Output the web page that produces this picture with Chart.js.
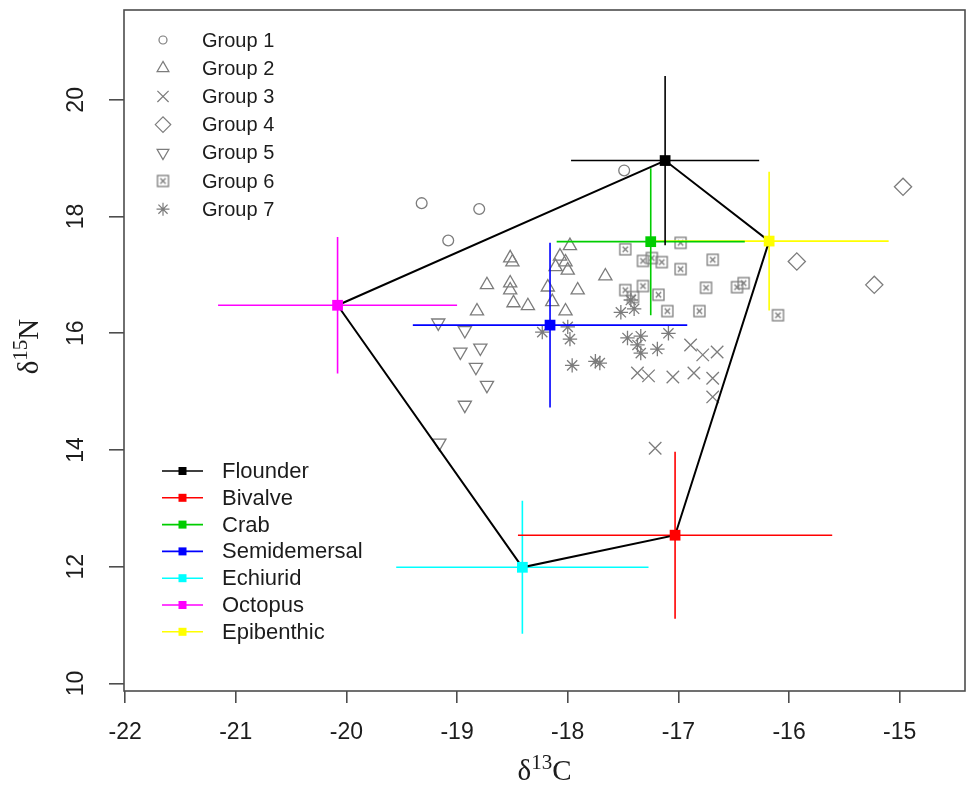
<!DOCTYPE html>
<html>
<head>
<meta charset="utf-8">
<script src="https://cdn.jsdelivr.net/npm/chart.js@4.4.1/dist/chart.umd.min.js"></script>
<style>
  html, body { margin: 0; padding: 0; background: #ffffff; }
  canvas { display: block; }
</style>
</head>
<body>
<canvas id="chart" width="967" height="787"></canvas>
<script>
// Axis tick labels
const xTicks = [-22, -21, -20, -19, -18, -17, -16, -15];
const yTicks = [10, 12, 14, 16, 18, 20];

// Consumer groups, each point is [δ13C, δ15N]
const groupNames = ['Group 1', 'Group 2', 'Group 3', 'Group 4', 'Group 5', 'Group 6', 'Group 7'];
const group1 = [[-19.32, 18.23], [-18.80, 18.13], [-19.08, 17.59], [-17.49, 18.79]];
const group2 = [[-17.98, 17.50], [-18.52, 17.29], [-18.50, 17.22], [-18.07, 17.32], [-18.02, 17.22],
                [-18.11, 17.14], [-18.00, 17.08], [-17.66, 16.98], [-18.73, 16.83], [-18.52, 16.86],
                [-18.52, 16.74], [-18.18, 16.79], [-17.91, 16.74], [-18.49, 16.52], [-18.36, 16.47],
                [-18.14, 16.54], [-18.02, 16.38], [-18.82, 16.38]];
const group3 = [[-16.89, 15.80], [-16.78, 15.63], [-16.65, 15.68], [-17.37, 15.32], [-17.27, 15.27],
                [-17.05, 15.25], [-16.86, 15.32], [-16.69, 15.23], [-16.69, 14.91], [-17.21, 14.03]];
const group4 = [[-14.97, 18.51], [-15.93, 17.23], [-15.23, 16.83]];
const group5 = [[-19.17, 16.18], [-18.93, 16.05], [-18.97, 15.68], [-18.79, 15.75], [-18.83, 15.42],
                [-18.73, 15.11], [-18.93, 14.77], [-19.16, 14.12]];
const group6 = [[-17.48, 17.44], [-16.98, 17.55], [-17.32, 17.24], [-17.24, 17.29], [-17.15, 17.22],
                [-16.98, 17.10], [-16.69, 17.26], [-17.48, 16.74], [-17.32, 16.81], [-17.41, 16.62],
                [-17.18, 16.66], [-17.10, 16.38], [-16.81, 16.38], [-16.75, 16.78], [-16.47, 16.79],
                [-16.41, 16.86], [-16.10, 16.31]];
const group7 = [[-18.23, 16.02], [-18.00, 16.11], [-17.98, 15.90], [-17.96, 15.45], [-17.75, 15.52],
                [-17.71, 15.49], [-17.52, 16.36], [-17.40, 16.42], [-17.43, 16.57], [-17.46, 15.92],
                [-17.34, 15.95], [-17.37, 15.80], [-17.34, 15.66], [-17.19, 15.73], [-17.09, 16.00]];
const groups = [group1, group2, group3, group4, group5, group6, group7];

// Food sources: mean and standard deviation of δ13C and δ15N
const sourceNames = ['Flounder', 'Bivalve', 'Crab', 'Semidemersal', 'Echiurid', 'Octopus', 'Epibenthic'];
const meanC = [-17.12, -17.03, -17.25, -18.16, -18.41, -20.08, -16.18];
const sdC   = [  0.85,   1.42,   0.85,   1.24,   1.14,   1.08,   1.08];
const meanN = [ 18.96,  12.54,  17.57,  16.14,  11.99,  16.48,  17.58];
const sdN   = [  1.45,   1.43,   1.26,   1.41,   1.14,   1.17,   1.19];

// ---- styles ----
const sourceColors = ['#000000', '#ff0000', '#00cd00', '#0000ff', '#00ffff', '#ff00ff', '#ffff00'];
const symbolGray = '#7c7c7c';
const axisGray = '#4d4d4d';
const textColor = '#1c1c1c';
const sansFont = '"Liberation Sans", Arial, sans-serif';
const serifFont = '"Liberation Serif", "Times New Roman", serif';

// square with a cross inside (R pch 7)
function makeBoxX() {
  const c = document.createElement('canvas');
  c.width = 15; c.height = 15;
  const g = c.getContext('2d');
  g.strokeStyle = symbolGray;
  g.lineWidth = 1.3;
  g.strokeRect(2, 2, 11, 11);
  g.beginPath();
  g.moveTo(4.8, 4.8); g.lineTo(10.2, 10.2);
  g.moveTo(10.2, 4.8); g.lineTo(4.8, 10.2);
  g.stroke();
  return c;
}
const boxX = makeBoxX();

const groupStyles = [
  { pointStyle: 'circle',   radius: 5.4, rotation: 0 },
  { pointStyle: 'triangle', radius: 7.6, rotation: 0 },
  { pointStyle: 'crossRot', radius: 8.8, rotation: 0 },
  { pointStyle: 'rectRot',  radius: 8.6, rotation: 0 },
  { pointStyle: 'triangle', radius: 7.6, rotation: 180 },
  { pointStyle: boxX,       radius: 7,   rotation: 0 },
  { pointStyle: 'star',     radius: 7.2, rotation: 0 }
];

const toXY = arr => arr.map(([x, y]) => ({ x, y }));

// convex hull of the source means (monotone chain)
function convexHull(pts) {
  const p = pts.slice().sort((a, b) => a.x - b.x || a.y - b.y);
  const cross = (o, a, b) => (a.x - o.x) * (b.y - o.y) - (a.y - o.y) * (b.x - o.x);
  const lower = [], upper = [];
  for (const q of p) {
    while (lower.length >= 2 && cross(lower[lower.length - 2], lower[lower.length - 1], q) <= 0) lower.pop();
    lower.push(q);
  }
  for (let i = p.length - 1; i >= 0; i--) {
    const q = p[i];
    while (upper.length >= 2 && cross(upper[upper.length - 2], upper[upper.length - 1], q) <= 0) upper.pop();
    upper.push(q);
  }
  upper.pop(); lower.pop();
  const hull = lower.concat(upper);
  hull.push(hull[0]);
  return hull;
}

const datasets = [];

// consumer groups
groups.forEach((pts, i) => {
  const st = groupStyles[i];
  datasets.push({
    type: 'scatter',
    label: groupNames[i],
    data: toXY(pts),
    pointStyle: st.pointStyle,
    pointRadius: st.radius,
    pointRotation: st.rotation,
    pointBorderColor: symbolGray,
    pointBackgroundColor: 'rgba(0,0,0,0)',
    pointBorderWidth: 1.3,
    order: 4
  });
});

// error bars: horizontal ±sd(δ13C), vertical ±sd(δ15N)
sourceNames.forEach((name, i) => {
  datasets.push({
    type: 'line',
    label: name + ' sd',
    data: [
      { x: meanC[i] - sdC[i], y: meanN[i] },
      { x: meanC[i] + sdC[i], y: meanN[i] },
      { x: null, y: null },
      { x: meanC[i], y: meanN[i] - sdN[i] },
      { x: meanC[i], y: meanN[i] + sdN[i] }
    ],
    borderColor: sourceColors[i],
    borderWidth: 1.6,
    pointRadius: 0,
    fill: false,
    spanGaps: false,
    tension: 0,
    order: 3
  });
});

// polygon around the source means
const meanPts = sourceNames.map((n, i) => ({ x: meanC[i], y: meanN[i] }));
datasets.push({
  type: 'line',
  label: 'hull',
  data: convexHull(meanPts),
  borderColor: '#000000',
  borderWidth: 2,
  pointRadius: 0,
  fill: false,
  tension: 0,
  order: 2
});

// source means
sourceNames.forEach((name, i) => {
  datasets.push({
    type: 'scatter',
    label: name,
    data: [{ x: meanC[i], y: meanN[i] }],
    pointStyle: 'rect',
    pointRadius: 7.6,
    pointBackgroundColor: sourceColors[i],
    pointBorderColor: sourceColors[i],
    pointBorderWidth: 0,
    order: 1
  });
});

function drawDeltaLabel(ctx, sup, tail, size) {
  // draws δ^sup tail centred on (0,0), baseline positioned so the caps are centred
  const supSize = Math.round(size * 0.72);
  ctx.font = size + 'px ' + serifFont;
  const w1 = ctx.measureText('δ').width;
  const w3 = ctx.measureText(tail).width;
  ctx.font = supSize + 'px ' + serifFont;
  const w2 = ctx.measureText(sup).width;
  const total = w1 + w2 + w3;
  let x = -total / 2;
  const base = size * 0.33;
  ctx.textAlign = 'left';
  ctx.textBaseline = 'alphabetic';
  ctx.font = size + 'px ' + serifFont;
  ctx.fillText('δ', x, base);
  x += w1;
  ctx.font = supSize + 'px ' + serifFont;
  ctx.fillText(sup, x, base - size * 0.36);
  x += w2;
  ctx.font = size + 'px ' + serifFont;
  ctx.fillText(tail, x, base);
}

const decorations = {
  id: 'decorations',
  afterDraw(chart) {
    const ctx = chart.ctx;
    const area = chart.chartArea;
    const xs = chart.scales.x, ys = chart.scales.y;
    ctx.save();

    // plot frame
    ctx.strokeStyle = axisGray;
    ctx.lineWidth = 1.6;
    ctx.strokeRect(area.left, area.top, area.right - area.left, area.bottom - area.top);

    // tick labels
    ctx.fillStyle = textColor;
    ctx.font = '23px ' + sansFont;
    ctx.textAlign = 'center';
    ctx.textBaseline = 'middle';
    xTicks.forEach(v => ctx.fillText(String(v), xs.getPixelForValue(v), 733));
    yTicks.forEach(v => {
      ctx.save();
      ctx.translate(77, ys.getPixelForValue(v));
      ctx.rotate(-Math.PI / 2);
      ctx.fillText(String(v), 0, 0);
      ctx.restore();
    });

    // axis titles
    ctx.save();
    ctx.translate((area.left + area.right) / 2, 770);
    drawDeltaLabel(ctx, '13', 'C', 29);
    ctx.restore();
    ctx.save();
    ctx.translate(28, (area.top + area.bottom) / 2 - 4);
    ctx.rotate(-Math.PI / 2);
    drawDeltaLabel(ctx, '15', 'N', 29);
    ctx.restore();

    // legend of consumer groups
    ctx.font = '20px ' + sansFont;
    ctx.textAlign = 'left';
    ctx.textBaseline = 'middle';
    groupNames.forEach((name, i) => {
      const y = 40 + i * 28.2;
      const st = groupStyles[i];
      ctx.save();
      ctx.strokeStyle = symbolGray;
      ctx.fillStyle = 'rgba(0,0,0,0)';
      ctx.lineWidth = 1.2;
      Chart.helpers.drawPoint(ctx, {
        pointStyle: st.pointStyle,
        rotation: st.rotation,
        radius: i === 0 ? 4 : st.radius * 0.9,
        borderWidth: 1.2
      }, 163, y);
      ctx.restore();
      ctx.fillStyle = textColor;
      ctx.fillText(name, 202, y + 1);
    });

    // legend of sources
    ctx.font = '22px ' + sansFont;
    sourceNames.forEach((name, i) => {
      const y = 471 + i * 26.8;
      ctx.strokeStyle = sourceColors[i];
      ctx.lineWidth = 1.6;
      ctx.beginPath();
      ctx.moveTo(162, y);
      ctx.lineTo(203, y);
      ctx.stroke();
      ctx.fillStyle = sourceColors[i];
      ctx.fillRect(178.5, y - 4, 8, 8);
      ctx.fillStyle = textColor;
      ctx.fillText(name, 222, y + 1);
    });

    ctx.restore();
  }
};

new Chart(document.getElementById('chart'), {
  type: 'scatter',
  data: { datasets },
  options: {
    responsive: false,
    animation: false,
    events: [],
    layout: { autoPadding: false, padding: { top: 10, right: 2, left: 0, bottom: 0 } },
    plugins: {
      legend: { display: false },
      tooltip: { enabled: false },
      title: { display: false }
    },
    scales: {
      x: {
        type: 'linear',
        min: -22.01,
        max: -14.41,
        afterBuildTicks: s => { s.ticks = xTicks.map(v => ({ value: v })); },
        afterFit: s => { s.height = 96; s.paddingLeft = 0; s.paddingRight = 0; },
        ticks: { display: false },
        border: { display: false },
        grid: { drawOnChartArea: false, drawTicks: true, tickLength: 12, color: axisGray, lineWidth: 1.6 }
      },
      y: {
        type: 'linear',
        min: 9.87,
        max: 21.54,
        afterBuildTicks: s => { s.ticks = yTicks.map(v => ({ value: v })); },
        afterFit: s => { s.width = 124; s.paddingTop = 0; s.paddingBottom = 0; },
        ticks: { display: false },
        border: { display: false },
        grid: { drawOnChartArea: false, drawTicks: true, tickLength: 15, color: axisGray, lineWidth: 1.6 }
      }
    }
  },
  plugins: [decorations]
});
</script>
</body>
</html>
